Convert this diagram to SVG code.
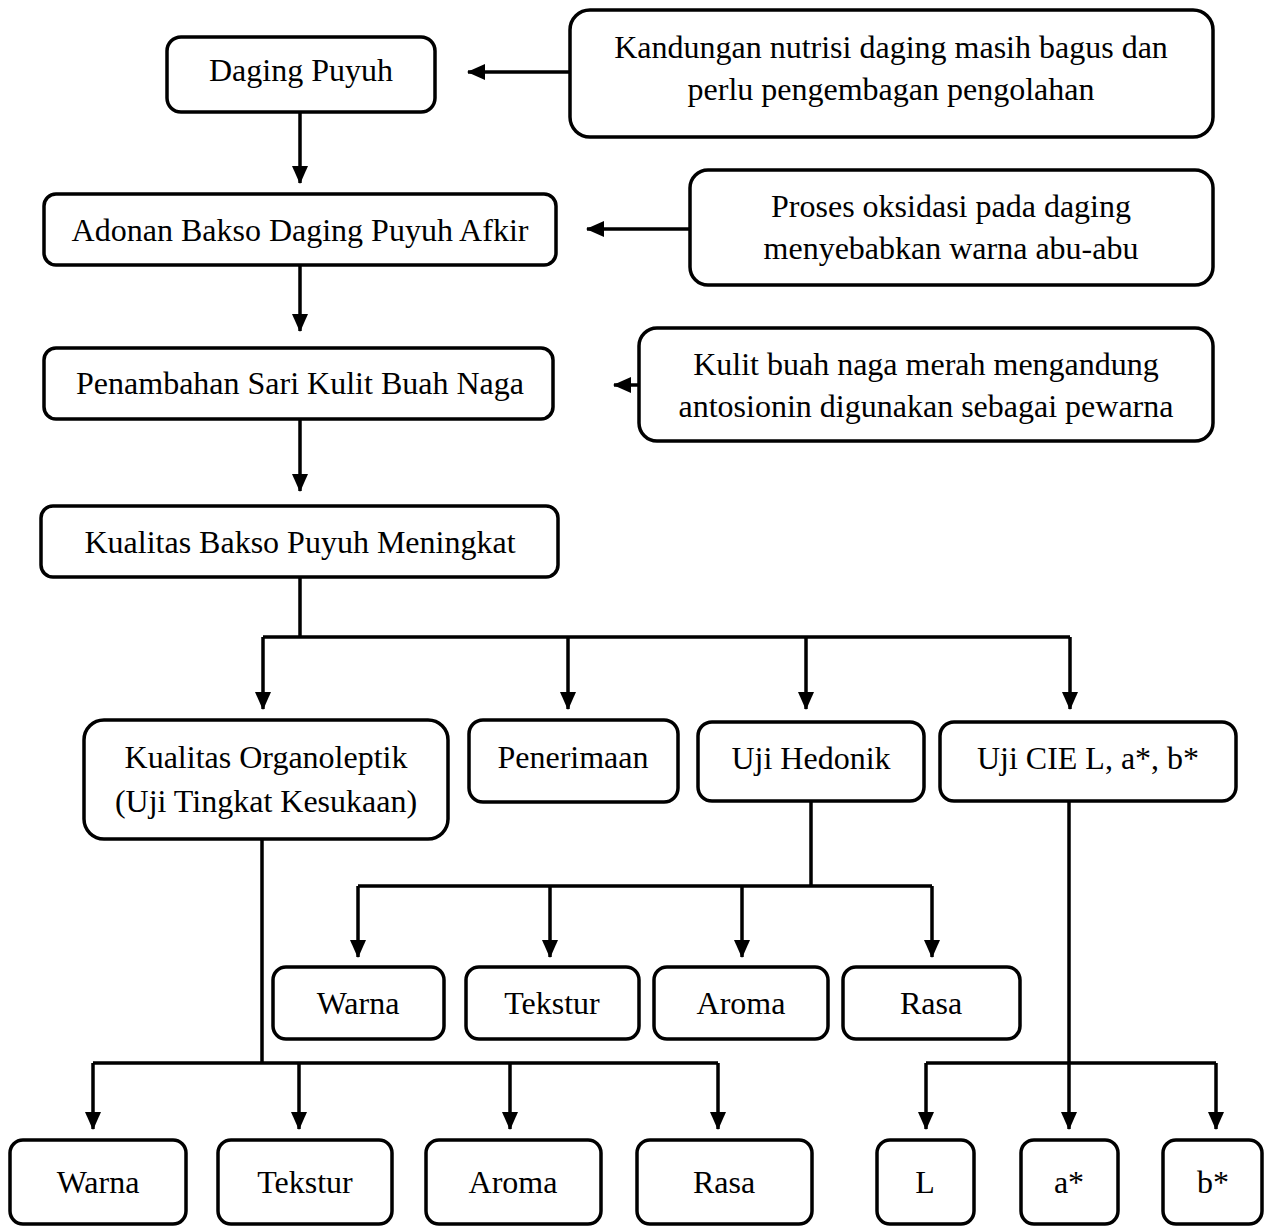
<svg xmlns="http://www.w3.org/2000/svg" width="1266" height="1226" viewBox="0 0 1266 1226">
<style>
.box{fill:#fff;stroke:#000;stroke-width:3.5}
.t{font-family:"Liberation Serif","Times New Roman",serif;font-size:32px;fill:#000;text-anchor:middle}
.c{fill:none;stroke:#000;stroke-width:3.5}
</style>
<defs>
<marker id="ah" markerUnits="userSpaceOnUse" markerWidth="18" markerHeight="16" refX="17" refY="8" orient="auto">
<path d="M0,0 L18,8 L0,16 z" fill="#000"/>
</marker>
</defs>
<rect width="1266" height="1226" fill="#fff"/>
<g id="connectors">
<path class="c" d="M570,72 H468" marker-end="url(#ah)"/>
<path class="c" d="M690,229 H587" marker-end="url(#ah)"/>
<path class="c" d="M639,385 H614" marker-end="url(#ah)"/>
<path class="c" d="M300,112 V183" marker-end="url(#ah)"/>
<path class="c" d="M300,265 V331" marker-end="url(#ah)"/>
<path class="c" d="M300,419 V491" marker-end="url(#ah)"/>
<path class="c" d="M300,577 V637 M263,637 H1070"/>
<path class="c" d="M263,637 V709" marker-end="url(#ah)"/>
<path class="c" d="M568,637 V709" marker-end="url(#ah)"/>
<path class="c" d="M806,637 V709" marker-end="url(#ah)"/>
<path class="c" d="M1070,637 V709" marker-end="url(#ah)"/>
<path class="c" d="M811,801 V886 M358,886 H932"/>
<path class="c" d="M358,886 V957" marker-end="url(#ah)"/>
<path class="c" d="M550,886 V957" marker-end="url(#ah)"/>
<path class="c" d="M742,886 V957" marker-end="url(#ah)"/>
<path class="c" d="M932,886 V957" marker-end="url(#ah)"/>
<path class="c" d="M262,839 V1063 M93,1063 H718"/>
<path class="c" d="M93,1063 V1129" marker-end="url(#ah)"/>
<path class="c" d="M299,1063 V1129" marker-end="url(#ah)"/>
<path class="c" d="M510,1063 V1129" marker-end="url(#ah)"/>
<path class="c" d="M718,1063 V1129" marker-end="url(#ah)"/>
<path class="c" d="M926,1063 H1216"/>
<path class="c" d="M1069,801 V1129" marker-end="url(#ah)"/>
<path class="c" d="M926,1063 V1129" marker-end="url(#ah)"/>
<path class="c" d="M1216,1063 V1129" marker-end="url(#ah)"/>
</g>
<g id="daging"><rect class="box" x="167" y="37" width="268" height="75" rx="14"/><text class="t" x="301" y="81">Daging Puyuh</text></g>
<g id="kandungan"><rect class="box" x="570" y="10" width="643" height="127" rx="20"/><text class="t" x="891" y="58">Kandungan nutrisi daging masih bagus dan</text><text class="t" x="891" y="100">perlu pengembagan pengolahan</text></g>
<g id="adonan"><rect class="box" x="44" y="194" width="512" height="71" rx="12"/><text class="t" x="300" y="241">Adonan Bakso Daging Puyuh Afkir</text></g>
<g id="proses"><rect class="box" x="690" y="170" width="523" height="115" rx="18"/><text class="t" x="951" y="217">Proses oksidasi pada daging</text><text class="t" x="951" y="259">menyebabkan warna abu-abu</text></g>
<g id="penambahan"><rect class="box" x="44" y="348" width="509" height="71" rx="12"/><text class="t" x="300" y="394">Penambahan Sari Kulit Buah Naga</text></g>
<g id="kulit"><rect class="box" x="639" y="328" width="574" height="113" rx="18"/><text class="t" x="926" y="375">Kulit buah naga merah mengandung</text><text class="t" x="926" y="417">antosionin digunakan sebagai pewarna</text></g>
<g id="kualitas"><rect class="box" x="41" y="506" width="517" height="71" rx="12"/><text class="t" x="300" y="553">Kualitas Bakso Puyuh Meningkat</text></g>
<g id="organoleptik"><rect class="box" x="84" y="720" width="364" height="119" rx="20"/><text class="t" x="266" y="768">Kualitas Organoleptik</text><text class="t" x="266" y="812">(Uji Tingkat Kesukaan)</text></g>
<g id="penerimaan"><rect class="box" x="469" y="720" width="209" height="82" rx="14"/><text class="t" x="573" y="768">Penerimaan</text></g>
<g id="hedonik"><rect class="box" x="698" y="722" width="226" height="79" rx="14"/><text class="t" x="811" y="769">Uji Hedonik</text></g>
<g id="cie"><rect class="box" x="940" y="722" width="296" height="79" rx="14"/><text class="t" x="1088" y="769">Uji CIE L, a*, b*</text></g>
<g id="h-warna"><rect class="box" x="273" y="967" width="171" height="72" rx="13"/><text class="t" x="358" y="1014">Warna</text></g>
<g id="h-tekstur"><rect class="box" x="466" y="967" width="173" height="72" rx="13"/><text class="t" x="552" y="1014">Tekstur</text></g>
<g id="h-aroma"><rect class="box" x="654" y="967" width="174" height="72" rx="13"/><text class="t" x="741" y="1014">Aroma</text></g>
<g id="h-rasa"><rect class="box" x="843" y="967" width="177" height="72" rx="13"/><text class="t" x="931" y="1014">Rasa</text></g>
<g id="o-warna"><rect class="box" x="10" y="1140" width="176" height="84" rx="13"/><text class="t" x="98" y="1193">Warna</text></g>
<g id="o-tekstur"><rect class="box" x="218" y="1140" width="174" height="84" rx="13"/><text class="t" x="305" y="1193">Tekstur</text></g>
<g id="o-aroma"><rect class="box" x="426" y="1140" width="175" height="84" rx="13"/><text class="t" x="513" y="1193">Aroma</text></g>
<g id="o-rasa"><rect class="box" x="637" y="1140" width="175" height="84" rx="13"/><text class="t" x="724" y="1193">Rasa</text></g>
<g id="c-l"><rect class="box" x="877" y="1140" width="97" height="84" rx="13"/><text class="t" x="925" y="1193">L</text></g>
<g id="c-a"><rect class="box" x="1021" y="1140" width="97" height="84" rx="13"/><text class="t" x="1069" y="1193">a*</text></g>
<g id="c-b"><rect class="box" x="1163" y="1140" width="99" height="84" rx="13"/><text class="t" x="1213" y="1193">b*</text></g>
</svg>
